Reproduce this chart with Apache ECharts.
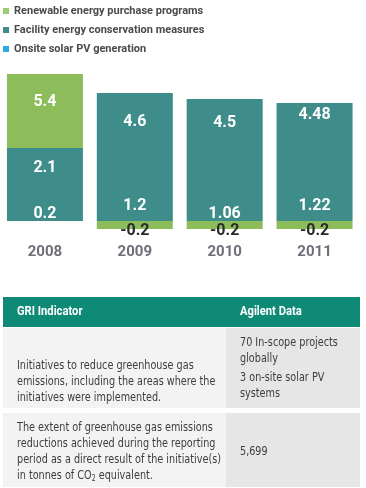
<!DOCTYPE html>
<html><head><meta charset="utf-8">
<script src="https://cdn.jsdelivr.net/npm/echarts@6/dist/echarts.min.js"></script>
<style>html,body{margin:0;padding:0;background:#fff}#c{width:366px;height:488px}</style>
</head><body><div id="c"></div>
<script>
// ---------- data ----------
const years = ['2008', '2009', '2010', '2011'];
const seriesNames = ['Renewable energy purchase programs', 'Facility energy conservation measures', 'Onsite solar PV generation'];
// values printed on the bars
const renewableValues = ['5.4', '-0.2', '-0.2', '-0.2'];
const conservationValues = ['2.1', '4.6', '4.5', '4.48'];
const conservationBaseValues = ['0.2', '1.2', '1.06', '1.22'];
// segment sizes as drawn (the original graphic is not drawn to scale)
const renewableHeights = [1.85, -0.2, -0.2, -0.2];
const conservationHeights = [1.475, 2.45, 2.7, 2.2];
const conservationBaseHeights = [0.35, 0.75, 0.35, 0.75];
const solarHeights = [];
// table
const tableHeader = ['GRI Indicator', 'Agilent Data'];
const row1Indicator = ['Initiatives to reduce greenhouse gas', 'emissions, including the areas where the', 'initiatives were implemented.'];
const row1DataA = ['70 In-scope projects', 'globally'];
const row1DataB = ['3 on-site solar PV', 'systems'];
const row2Indicator = ['The extent of greenhouse gas emissions', 'reductions achieved during the reporting', 'period as a direct result of the initiative(s)', 'in tonnes of CO{sub|2} equivalent.'];
const row2Data = ['5,699'];

// ---------- styles / layout ----------
const FONT = 'Roboto, "DejaVu Sans Condensed", sans-serif';
const TFONT = '"DejaVu Sans Condensed", Roboto, sans-serif';
const GREEN = '#8dbd5b', GREEN_LEG = '#9bcc6b', TEAL = '#3e8d8a', BLUE = '#2eaae1';
const upperLabelCenter = [20, 29, 24, 12];   // label centre below segment top, px
const greenLabelCenter = 28;

const chart = echarts.init(document.getElementById('c'), null, {renderer: 'canvas'});

const barLabel = {show: true, color: '#fff', fontFamily: FONT, fontWeight: 'bold', fontSize: 16, lineHeight: 16};

const baseData = conservationBaseHeights.map((v, i) => ({
  value: v, label: Object.assign({}, barLabel, {position: 'inside', formatter: conservationBaseValues[i]})
}));
const upperData = conservationHeights.map((v, i) => ({
  value: v, label: Object.assign({}, barLabel, {position: 'insideTop', distance: upperLabelCenter[i] - 8, formatter: conservationValues[i]})
}));
const greenData = renewableHeights.map((v, i) => ({
  value: v,
  itemStyle: v > 0 ? {color: GREEN, borderColor: '#4f7f3a', borderWidth: 0} : {color: GREEN},
  label: v > 0
    ? Object.assign({}, barLabel, {position: 'insideTop', distance: greenLabelCenter - 8, formatter: renewableValues[i]})
    : Object.assign({}, barLabel, {position: 'inside', offset: [0, 6], color: '#2a2a2a', formatter: renewableValues[i]})
}));

const TX = 3, TW = 357, SPLIT = 226, SX = 0.86;
function txt(x, y, lines, opts) {
  return {
    type: 'text', x: x, y: y, z: 10, scaleX: SX,
    style: Object.assign({
      text: lines.join('\n'), fill: '#3d3d3d', fontFamily: TFONT, fontSize: 12.5, lineHeight: 16,
      verticalAlign: 'top', align: 'left',
      rich: {sub: {fontSize: 8, lineHeight: 16, padding: [6, 0, 0, 0], fontFamily: TFONT, fill: '#3d3d3d'}}
    }, opts || {})
  };
}

const option = {
  animation: false,
  legend: {
    data: [
      {name: seriesNames[0], itemStyle: {color: GREEN_LEG}},
      {name: seriesNames[1], itemStyle: {color: TEAL}},
      {name: seriesNames[2], itemStyle: {color: BLUE}}
    ],
    orient: 'vertical', left: 3, top: 4, padding: 0, itemGap: 5,
    itemWidth: 6, itemHeight: 6, icon: 'rect', selectedMode: false,
    textStyle: {fontFamily: FONT, fontWeight: 'bold', fontSize: 11, color: '#4a4a4a', lineHeight: 14}
  },
  grid: {left: -4.5, width: 364, top: 74, height: 155},
  xAxis: {
    type: 'category', data: years,
    axisLine: {show: false, onZero: false}, axisTick: {show: false},
    axisLabel: {margin: 16, fontFamily: FONT, fontWeight: 'bold', fontSize: 15, color: '#6e6f78'}
  },
  yAxis: {type: 'value', min: -0.2, max: 3.675, show: false, splitLine: {show: false}},
  series: [
    {name: seriesNames[1], type: 'bar', stack: 's', barWidth: 76, itemStyle: {color: TEAL}, data: baseData},
    {name: seriesNames[1], type: 'bar', stack: 's', barWidth: 76, itemStyle: {color: TEAL}, data: upperData},
    {name: seriesNames[0], type: 'bar', stack: 's', barWidth: 76, itemStyle: {color: GREEN}, data: greenData},
    {name: seriesNames[2], type: 'bar', stack: 's', barWidth: 76, itemStyle: {color: BLUE}, data: solarHeights}
  ],
  graphic: [
    {type: 'rect', shape: {x: TX, y: 297, width: TW, height: 30}, style: {fill: '#0f8a77'}},
    {type: 'rect', shape: {x: TX, y: 328, width: SPLIT - TX, height: 80}, style: {fill: '#f3f3f3'}},
    {type: 'rect', shape: {x: SPLIT, y: 328, width: TX + TW - SPLIT, height: 80}, style: {fill: '#e6e6e6'}},
    {type: 'rect', shape: {x: TX, y: 413, width: SPLIT - TX, height: 74}, style: {fill: '#f3f3f3'}},
    {type: 'rect', shape: {x: SPLIT, y: 413, width: TX + TW - SPLIT, height: 74}, style: {fill: '#e6e6e6'}},
    txt(17, 312, [tableHeader[0]], {fill: '#fff', fontFamily: FONT, fontWeight: 'bold', fontSize: 13, verticalAlign: 'middle'}),
    txt(240, 312, [tableHeader[1]], {fill: '#fff', fontFamily: FONT, fontWeight: 'bold', fontSize: 13, verticalAlign: 'middle'}),
    txt(17, 366 - 8, row1Indicator),
    txt(240, 343 - 8, row1DataA),
    txt(240, 378 - 8, row1DataB),
    txt(17, 428 - 8, row2Indicator),
    txt(240, 452 - 8, row2Data)
  ]
};
chart.setOption(option);
</script>
</body></html>
